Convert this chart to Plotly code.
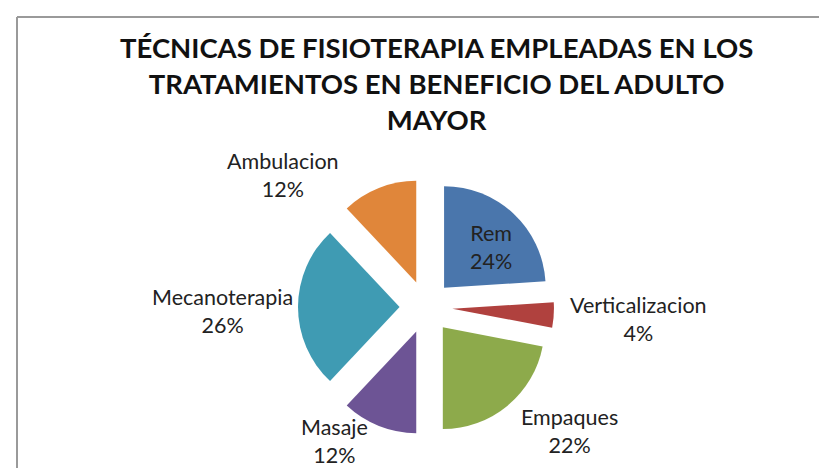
import plotly.graph_objects as go

labels = ["Rem", "Verticalizacion", "Empaques", "Masaje", "Mecanoterapia", "Ambulacion"]
values = [24, 4, 22, 12, 26, 12]
colors = ["#4A76AC", "#B0413E", "#8DAA4B", "#6D5495", "#3F9BB3", "#E0863A"]
title_lines = ["TÉCNICAS DE FISIOTERAPIA EMPLEADAS EN LOS",
               "TRATAMIENTOS EN BENEFICIO DEL ADULTO",
               "MAYOR"]

# label anchor positions (pixels in 827x468 canvas)
label_pos = [(483, 239), (630, 311), (561, 423), (326, 433), (214, 303), (275, 167)]

W, H = 827, 468
cx, cy, half = 418, 299, 128
fig = go.Figure()
fig.add_trace(go.Pie(
    labels=labels, values=values, sort=False, direction="clockwise", rotation=0,
    marker=dict(colors=colors, line=dict(width=0)),
    pull=[0.26] * len(values), textinfo="none", hoverinfo="label+percent",
    showlegend=False,
    domain=dict(x=[(cx - half) / W, (cx + half) / W], y=[1 - (cy + half) / H, 1 - (cy - half) / H]),
))

total = sum(values)
annotations = []
for lab, val, (px, py) in zip(labels, values, label_pos):
    annotations.append(dict(
        x=px / W, y=1 - py / H, xref="paper", yref="paper",
        text=f"{lab}<br>{round(100 * val / total)}%", showarrow=False,
        font=dict(family="Lato", size=21.5, color="#222222"),
        xanchor="center", yanchor="middle", align="center",
    ))
annotations.append(dict(
    x=428 / W, y=1 - 75 / H, xref="paper", yref="paper",
    text="<br>".join(f"<b>{t}</b>" for t in title_lines), showarrow=False,
    font=dict(family="Lato", size=27.5, color="#111111"),
    xanchor="center", yanchor="middle", align="center",
))

fig.update_layout(
    width=W, height=H, margin=dict(l=0, r=0, t=0, b=0),
    paper_bgcolor="white", plot_bgcolor="white",
    annotations=annotations,
    shapes=[
        dict(type="line", xref="paper", yref="paper", x0=9 / W, x1=1, y0=1 - 9 / H, y1=1 - 9 / H,
             line=dict(color="#9A9A9A", width=2)),
        dict(type="line", xref="paper", yref="paper", x0=9 / W, x1=9 / W, y0=0, y1=1 - 9 / H,
             line=dict(color="#9A9A9A", width=2)),
    ],
)
fig.write_html("out.html")
